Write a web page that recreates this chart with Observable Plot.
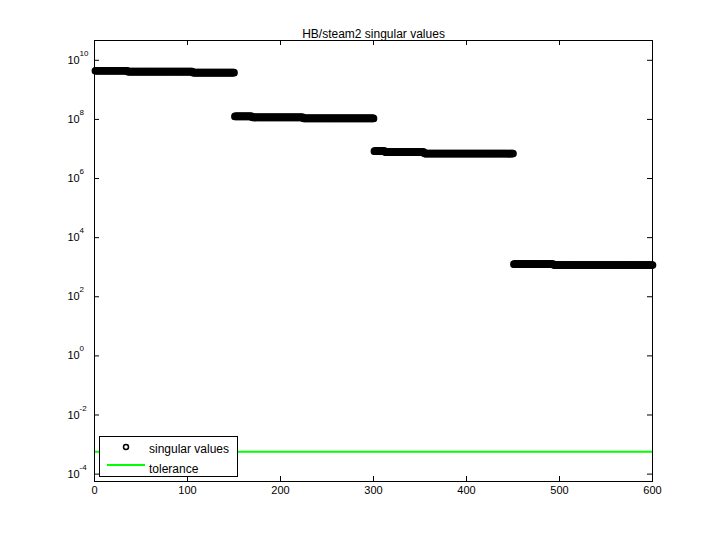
<!DOCTYPE html>
<html>
<head>
<meta charset="utf-8">
<script src="https://cdn.jsdelivr.net/npm/d3@7"></script>
<script src="https://cdn.jsdelivr.net/npm/@observablehq/plot@0.6"></script>
<style>
  html, body { margin: 0; padding: 0; background: #fff; }
  #chart svg { display: block; }
</style>
</head>
<body>
<div id="chart"></div>
<script>
// ---- data ----
const chartTitle = "HB/steam2 singular values";
// singular values are flat runs: last index of each run and its value
const runLastIndex = [35, 105, 150, 169, 224, 300, 312, 354, 450, 493, 600];
const runValue     = [4.44e9, 4.11e9, 3.80e9, 1.26e8, 1.17e8, 1.08e8, 8.4e6, 7.8e6, 7.0e6, 1.27e3, 1.18e3];
const tolerance = 5.7e-4;
const xTicks = [0, 100, 200, 300, 400, 500, 600];
const yTickExponents = [-4, -2, 0, 2, 4, 6, 8, 10];
const legendLabels = ["singular values", "tolerance"];

// ---- build table ----
const singular = [];
let start = 1;
runLastIndex.forEach((end, k) => {
  for (let i = start; i <= end; i++) singular.push({i, v: runValue[k]});
  start = end + 1;
});
const yTicks = yTickExponents.map(e => ({e, v: Math.pow(10, e)}));

const font = "'Liberation Sans', Arial, Helvetica, sans-serif";
const W = 720, H = 540, mL = 94, mR = 68, mT = 40, mB = 59;
const fw = W - mL - mR, fh = H - mT - mB;

const plot = Plot.plot({
  width: W, height: H,
  marginLeft: mL, marginRight: mR, marginTop: mT, marginBottom: mB,
  style: {fontFamily: font, fontSize: "11px", background: "white", color: "black"},
  x: {domain: [0, 600], axis: null},
  y: {type: "log", domain: [Math.pow(10, -4.25), Math.pow(10, 10.67)], axis: null},
  marks: [
    Plot.ruleY([tolerance], {x1: 0, x2: 600, stroke: "#00ff00", strokeWidth: 2}),
    Plot.dot(singular, {x: "i", y: "v", r: 3.1, stroke: "black", strokeWidth: 1.5, fill: "none"}),
    Plot.frame({stroke: "black"}),
    Plot.tickX(xTicks, {x: d => d, insetTop: fh - 5, stroke: "black"}),
    Plot.tickX(xTicks, {x: d => d, insetBottom: fh - 5, stroke: "black"}),
    Plot.tickY(yTicks, {y: "v", insetRight: fw - 5, stroke: "black"}),
    Plot.tickY(yTicks, {y: "v", insetLeft: fw - 5, stroke: "black"}),
    Plot.text(xTicks, {x: d => d, frameAnchor: "bottom", dy: 12, text: d => String(d), fontSize: 11}),
    Plot.text(yTicks, {y: "v", frameAnchor: "left", dx: -27, textAnchor: "start", text: () => "10", fontSize: 11}),
    Plot.text(yTicks, {y: "v", frameAnchor: "left", dx: -15, dy: -7, textAnchor: "start", text: d => String(d.e), fontSize: 8}),
    Plot.text([chartTitle], {frameAnchor: "top", dy: -11, fontSize: 12})
  ]
});

// legend box (inside axes, lower-left)
const svg = d3.select(plot);
const g = svg.append("g").attr("font-family", font).attr("font-size", 12)
  .attr("fill", "black").attr("text-anchor", "start");
g.append("rect").attr("x", 99.5).attr("y", 436.5).attr("width", 138).attr("height", 40)
  .attr("fill", "white").attr("stroke", "black").attr("stroke-width", 1);
g.append("circle").attr("cx", 126).attr("cy", 447).attr("r", 2.5)
  .attr("fill", "none").attr("stroke", "black").attr("stroke-width", 1.5);
g.append("text").attr("x", 149).attr("y", 453).attr("text-anchor", "start").text(legendLabels[0]);
g.append("line").attr("x1", 107).attr("x2", 145).attr("y1", 465).attr("y2", 465)
  .attr("stroke", "#00ff00").attr("stroke-width", 2);
g.append("text").attr("x", 149).attr("y", 472.5).attr("text-anchor", "start").text(legendLabels[1]);

document.getElementById("chart").appendChild(plot);
</script>
</body>
</html>
